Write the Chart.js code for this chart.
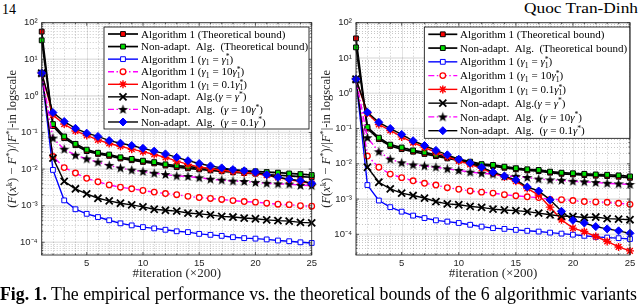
<!DOCTYPE html>
<html><head><meta charset="utf-8">
<script src="https://cdn.jsdelivr.net/npm/chart.js@4.4.1/dist/chart.umd.min.js"></script>
<style>
html,body{margin:0;padding:0;background:#fff;width:640px;height:305px;overflow:hidden;}
body{position:relative;}
#c1{position:absolute;left:0;top:0;}
#c2{position:absolute;left:314px;top:0;}
.txt{position:absolute;white-space:nowrap;font-family:'Liberation Serif',serif;color:#000;line-height:1;transform-origin:0 0;}
</style></head><body>
<div id="pg" class="txt" style="left:2px;top:3px;font-size:14px;">14</div>
<div id="au" class="txt" style="left:524px;top:2px;font-size:14px;">Quoc Tran-Dinh</div>
<canvas id="c1" width="320" height="285"></canvas>
<canvas id="c2" width="326" height="285"></canvas>
<div id="cap" class="txt" style="left:0;top:285px;font-size:18px;"><b>Fig. 1.</b> The empirical performance vs. the theoretical bounds of the 6 algorithmic variants</div>
<script>
// ---------------- data ----------------
const iterations = [1,2,3,4,5,6,7,8,9,10,11,12,13,14,15,16,17,18,19,20,21,22,23,24,25];
const xTickValues = [5,10,15,20,25];
const yTickValues = [1e-4,1e-3,1e-2,1e-1,1,10,100];

const seriesLabels = [
  'Algorithm 1 (Theoretical bound)',
  'Non-adapt. Alg. (Theoretical bound)',
  'Algorithm 1 (γ1 = γ1*)',
  'Algorithm 1 (γ1 = 10γ1*)',
  'Algorithm 1 (γ1 = 0.1γ1*)',
  'Non-adapt. Alg.(γ = γ*)',
  'Non-adapt. Alg. (γ = 10γ*)',
  'Non-adapt. Alg. (γ = 0.1γ*)'
];

// left panel
const L_alg1Bound     = [57,0.15,0.07,0.045,0.031,0.026,0.023,0.0195,0.0175,0.0157,0.0143,0.0125,0.0113,0.0105,0.0098,0.0092,0.0087,0.0082,0.0078,0.0075,0.0071,0.0068,0.0065,0.0062,0.006];
const L_nonAdaptBound = [33,0.17,0.078,0.049,0.034,0.028,0.025,0.021,0.019,0.017,0.0155,0.0135,0.0125,0.0117,0.011,0.0104,0.0099,0.0094,0.009,0.0087,0.0083,0.008,0.0076,0.0073,0.0069];
const L_alg1Gamma     = [4.2,0.0095,0.0014,0.0008,0.0006,0.00049,0.0004,0.00033,0.00029,0.00026,0.00024,0.00022,0.0002,0.00019,0.00017,0.00016,0.00015,0.000138,0.00013,0.000126,0.00012,0.000112,0.000107,0.0001,0.000096];
const L_alg1Gamma10   = [4.2,0.022,0.011,0.0078,0.0056,0.0045,0.0037,0.0032,0.0029,0.0026,0.00235,0.00215,0.002,0.0018,0.00167,0.00158,0.00148,0.00138,0.0013,0.00125,0.00117,0.0011,0.00107,0.001,0.00097];
const L_alg1Gamma01   = [4.2,0.3,0.17,0.11,0.083,0.063,0.05,0.042,0.035,0.03,0.025,0.021,0.0165,0.0135,0.0115,0.0102,0.0093,0.0086,0.008,0.0077,0.0068,0.0059,0.0051,0.0046,0.004];
const L_nonAdaptGamma = [4.2,0.02,0.0046,0.0029,0.0021,0.0016,0.00135,0.00117,0.00105,0.00093,0.0008,0.00075,0.00071,0.00063,0.0006,0.00056,0.00051,0.00049,0.00046,0.00044,0.00041,0.00039,0.00038,0.00035,0.00034];
const L_nonAdaptGamma10 = [4.2,0.07,0.035,0.024,0.019,0.0155,0.0126,0.0107,0.0094,0.0086,0.0077,0.0071,0.0065,0.0063,0.0058,0.0053,0.005,0.0047,0.0046,0.0043,0.0041,0.00395,0.0039,0.0036,0.00355];
const L_nonAdaptGamma01 = [4.2,0.35,0.2,0.13,0.096,0.078,0.06,0.051,0.044,0.037,0.031,0.026,0.021,0.017,0.0142,0.0122,0.0108,0.0097,0.009,0.0083,0.007,0.006,0.0053,0.0048,0.0041];

// right panel
const R_alg1Bound     = [36,0.1,0.05,0.032,0.026,0.022,0.019,0.0165,0.0142,0.0125,0.0106,0.0091,0.0086,0.0077,0.007,0.0065,0.0062,0.0056,0.0052,0.005,0.0048,0.0046,0.0045,0.0043,0.004];
const R_nonAdaptBound = [20,0.11,0.055,0.035,0.029,0.024,0.021,0.018,0.0155,0.0136,0.0115,0.0098,0.0093,0.0083,0.0075,0.007,0.0067,0.006,0.0056,0.0054,0.0052,0.005,0.0049,0.0047,0.0044];
const R_alg1Gamma     = [2.5,0.0025,0.00091,0.00059,0.00044,0.00034,0.00029,0.00025,0.00023,0.00021,0.000187,0.000166,0.00015,0.000143,0.000134,0.000126,0.00012,0.000112,0.000105,0.000098,0.000091,0.000085,0.000081,0.000078,0.000074];
const R_alg1Gamma10   = [2.5,0.0166,0.008,0.0051,0.00405,0.0033,0.0028,0.0025,0.0021,0.0019,0.0017,0.00157,0.00148,0.00133,0.00124,0.00116,0.0011,0.00098,0.00096,0.00091,0.00085,0.00083,0.00081,0.00076,0.00071];
const R_alg1Gamma01   = [2.5,0.27,0.13,0.088,0.058,0.04,0.029,0.021,0.016,0.012,0.0096,0.0074,0.0054,0.0042,0.0032,0.002,0.0013,0.00059,0.00026,0.00015,0.00012,0.000087,0.000063,0.000044,0.000034];
const R_nonAdaptGamma = [2.5,0.008,0.003,0.00195,0.00148,0.00126,0.00107,0.00085,0.00073,0.00069,0.00062,0.00058,0.00052,0.00049,0.00047,0.00044,0.0004,0.00036,0.00033,0.00032,0.0003,0.00031,0.00028,0.00027,0.00026];
const R_nonAdaptGamma10 = [2.5,0.055,0.022,0.0135,0.0107,0.0093,0.0087,0.008,0.0072,0.0065,0.0058,0.0054,0.0051,0.0045,0.0044,0.0041,0.0037,0.0035,0.0034,0.0032,0.0031,0.00295,0.0028,0.0027,0.0026];
const R_nonAdaptGamma01 = [2.5,0.29,0.15,0.1,0.068,0.045,0.033,0.024,0.018,0.0135,0.0105,0.008,0.0058,0.0045,0.0035,0.0022,0.0017,0.00095,0.00045,0.00025,0.00021,0.000166,0.000143,0.000126,0.000107];

const leftSeries  = [L_alg1Bound,L_nonAdaptBound,L_alg1Gamma,L_alg1Gamma10,L_alg1Gamma01,L_nonAdaptGamma,L_nonAdaptGamma10,L_nonAdaptGamma01];
const rightSeries = [R_alg1Bound,R_nonAdaptBound,R_alg1Gamma,R_alg1Gamma10,R_alg1Gamma01,R_nonAdaptGamma,R_nonAdaptGamma10,R_nonAdaptGamma01];

// ---------------- styles ----------------
function makePentagram(){
  const c=document.createElement('canvas'); c.width=11; c.height=11;
  const g=c.getContext('2d'); g.beginPath();
  for(let i=0;i<10;i++){const r=i%2?2.1:5.3; const a=-Math.PI/2+i*Math.PI/5; g.lineTo(5.5+r*Math.cos(a),5.8+r*Math.sin(a));}
  g.closePath(); g.fillStyle='#000'; g.fill(); return c;
}
const pentagram = makePentagram();
const DASHDOT=[6,2.5,1.5,2.5];
const STY = [
  {color:'#000',dash:[],lw:1.7,ps:'rect',r:3.4,bg:'#ff0000',bc:'#000',bw:1},
  {color:'#000',dash:[],lw:1.7,ps:'rect',r:3.4,bg:'#00e000',bc:'#000',bw:1},
  {color:'#0000ff',dash:[],lw:1.4,ps:'rect',r:3.4,bg:'#fff',bc:'#0000ff',bw:1},
  {color:'#ff00ff',dash:DASHDOT,lw:1.4,ps:'circle',r:2.8,bg:'#fff',bc:'#ff0000',bw:1.3},
  {color:'#ff0000',dash:[],lw:1.4,ps:'star',r:4,bg:'#ff0000',bc:'#ff0000',bw:1.4},
  {color:'#000',dash:[],lw:1.4,ps:'crossRot',r:5,bg:'#000',bc:'#000',bw:1.8},
  {color:'#ff00ff',dash:DASHDOT,lw:1.4,ps:pentagram,r:5,bg:'#000',bc:'#000',bw:1},
  {color:'#000',dash:[],lw:1.4,ps:'rectRot',r:4,bg:'#0000ff',bc:'#0000ff',bw:1}
];
// rich labels: [text, kind] kind: n normal, i italic, b subscript, p superscript, s stacked [sub,sup]
const G='γ';
const richLabels = [
  [['Algorithm 1 (Theoretical bound)','n']],
  [['Non-adapt.  Alg.  (Theoretical bound)','n']],
  [['Algorithm 1 (','n'],[G,'i'],['1','b'],[' = ','n'],[G,'i'],[['1','*'],'s'],[')','n']],
  [['Algorithm 1 (','n'],[G,'i'],['1','b'],[' = 10','n'],[G,'i'],[['1','*'],'s'],[')','n']],
  [['Algorithm 1 (','n'],[G,'i'],['1','b'],[' = 0.1','n'],[G,'i'],[['1','*'],'s'],[')','n']],
  [['Non-adapt.  Alg.(','n'],[G,'i'],[' = ','n'],[G,'i'],['*','p'],[')','n']],
  [['Non-adapt.  Alg.  (','n'],[G,'i'],[' = 10','n'],[G,'i'],['*','p'],[')','n']],
  [['Non-adapt.  Alg.  (','n'],[G,'i'],[' = 0.1','n'],[G,'i'],['*','p'],[')','n']]
];
const SERIF="'Liberation Serif', serif";
function fontFor(k,size){const s=(k==='b'||k==='p'||k==='s')?size*0.7:size;return (k==='i'?'italic ':'')+s+'px '+SERIF;}
function segWidth(ctx,t,k,size){ctx.font=fontFor(k,size);if(k==='s')return Math.max(ctx.measureText(t[0]).width,ctx.measureText(t[1]).width);return ctx.measureText(t).width;}
function richWidth(ctx,segs,size){let w=0;for(const [t,k] of segs)w+=segWidth(ctx,t,k,size);return w;}
function drawRich(ctx,segs,x,y,size){
  ctx.textBaseline='alphabetic';ctx.textAlign='left';
  for(const [t,k] of segs){
    const w=segWidth(ctx,t,k,size);
    if(k==='s'){ctx.fillText(t[0],x,y+size*0.22);ctx.fillText(t[1],x,y-size*0.3);}
    else{const dy=k==='b'?size*0.22:(k==='p'?-size*0.3:0);ctx.fillText(t,x,y+dy);}
    x+=w;
  }
}
function drawMarker(ctx,s,x,y){
  ctx.save();ctx.setLineDash([]);ctx.lineWidth=s.bw;ctx.strokeStyle=s.bc;ctx.fillStyle=s.bg;
  const r=s.r;ctx.beginPath();
  if(typeof s.ps!=='string'){ctx.drawImage(s.ps,x-s.ps.width/2,y-s.ps.height/2);ctx.restore();return;}
  switch(s.ps){
    case 'rect':{const h=r*Math.SQRT1_2;ctx.rect(x-h,y-h,2*h,2*h);ctx.fill();ctx.stroke();break;}
    case 'circle':ctx.arc(x,y,r,0,Math.PI*2);ctx.fill();ctx.stroke();break;
    case 'rectRot':ctx.moveTo(x-r,y);ctx.lineTo(x,y-r);ctx.lineTo(x+r,y);ctx.lineTo(x,y+r);ctx.closePath();ctx.fill();ctx.stroke();break;
    case 'crossRot':{const o=r*Math.SQRT1_2;ctx.moveTo(x-o,y-o);ctx.lineTo(x+o,y+o);ctx.moveTo(x-o,y+o);ctx.lineTo(x+o,y-o);ctx.stroke();break;}
    case 'star':{const o=r*Math.SQRT1_2;ctx.moveTo(x-r,y);ctx.lineTo(x+r,y);ctx.moveTo(x,y-r);ctx.lineTo(x,y+r);ctx.moveTo(x-o,y-o);ctx.lineTo(x+o,y+o);ctx.moveTo(x-o,y+o);ctx.lineTo(x+o,y-o);ctx.stroke();break;}
  }
  ctx.restore();
}
const SUP={'-':'⁻','0':'⁰','1':'¹','2':'²','3':'³','4':'⁴','5':'⁵','6':'⁶'};
function supLabel(v){const e=Math.round(Math.log10(v));return '10'+String(e).split('').map(c=>SUP[c]).join('');}

const TICKFONT={family:"'Liberation Sans', Arial, sans-serif",size:9.5};
const TXT='#262626';

const axesPlugin={
  id:'matlabAxes',
  beforeDatasetsDraw(chart,args,o){
    const {ctx,chartArea:a,scales:{x,y}}=chart;
    const line=(x0,y0,x1,y1)=>{ctx.beginPath();ctx.moveTo(x0,y0);ctx.lineTo(x1,y1);ctx.stroke();};
    ctx.save();
    ctx.fillStyle='#fff';ctx.fillRect(a.left,a.top,a.width,a.height);
    ctx.beginPath();ctx.rect(a.left,a.top,a.width,a.height);ctx.clip();
    ctx.lineWidth=1;ctx.strokeStyle='rgba(0,0,0,0.22)';ctx.setLineDash([1,2]);
    for(let e=-6;e<=2;e++)for(let k=2;k<=9;k++){const py=Math.round(y.getPixelForValue(k*Math.pow(10,e)))+0.5;if(py<a.top||py>a.bottom)continue;line(a.left,py,a.right,py);}
    for(let v=Math.ceil(x.min);v<=x.max;v++){if(v%5===0)continue;const px=Math.round(x.getPixelForValue(v))+0.5;line(px,a.top,px,a.bottom);}
    ctx.setLineDash([]);ctx.strokeStyle='rgba(0,0,0,0.11)';ctx.lineWidth=1.6;
    for(let e=-6;e<=2;e++){const py=y.getPixelForValue(Math.pow(10,e));if(py<a.top-1||py>a.bottom+1)continue;line(a.left,py,a.right,py);}
    ctx.lineWidth=1;
    for(const v of xTickValues){const px=Math.round(x.getPixelForValue(v))+0.5;line(px,a.top,px,a.bottom);}
    ctx.restore();
  },
  afterDraw(chart,args,o){
    const {ctx,chartArea:a,scales:{x,y}}=chart;
    const line=(x0,y0,x1,y1)=>{ctx.beginPath();ctx.moveTo(x0,y0);ctx.lineTo(x1,y1);ctx.stroke();};
    ctx.save();
    ctx.strokeStyle=TXT;ctx.lineWidth=0.7;
    for(let e=-6;e<=2;e++)for(let k=1;k<=9;k++){const py=y.getPixelForValue(k*Math.pow(10,e));if(py<a.top-0.5||py>a.bottom+0.5)continue;const L=k===1?3:1.6;line(a.left,py,a.left+L,py);line(a.right,py,a.right-L,py);}
    for(let v=Math.ceil(x.min);v<=x.max;v++){const px=x.getPixelForValue(v);const L=v%5===0?3:1.6;line(px,a.bottom,px,a.bottom-L);line(px,a.top,px,a.top+L);}
    ctx.lineWidth=0.9;ctx.strokeRect(a.left,a.top,a.width,a.height);
    const ys=12.5;
    const tsegs=[['(','n'],['F','i'],['(','n'],['x','i'],['k','p'],[') − ','n'],['F','i'],['*','p'],[')/|','n'],['F','i'],['*','p'],['|-in logscale','n']];
    ctx.fillStyle=TXT;
    const tw=richWidth(ctx,tsegs,ys);
    ctx.translate(o.yTitleX,(a.top+a.bottom)/2);ctx.rotate(-Math.PI/2);
    drawRich(ctx,tsegs,-tw/2,ys*0.33,ys);
    ctx.restore();
    const L=o.legend;ctx.save();
    ctx.fillStyle='#fff';ctx.fillRect(L.x,L.y,L.w,L.h);
    ctx.strokeStyle='#000';ctx.lineWidth=0.8;ctx.strokeRect(L.x,L.y,L.w,L.h);
    for(let i=0;i<STY.length;i++){
      const s=STY[i];const ry=L.row0+i*L.step;
      ctx.save();ctx.strokeStyle=s.color;ctx.lineWidth=s.lw;ctx.setLineDash(s.dash);line(L.lx0,ry,L.lx1,ry);ctx.restore();
      drawMarker(ctx,s,(L.lx0+L.lx1)/2,ry);
      ctx.fillStyle='#000';drawRich(ctx,richLabels[i],L.tx,ry+3.6,L.fs);
    }
    ctx.restore();
  }
};

function makeChart(id,series,yMin,yWidth,padRight,yTitleX,legend){
  const datasets=series.map((arr,i)=>{const s=STY[i];return{
    label:seriesLabels[i],
    data:iterations.map((it,j)=>({x:it,y:arr[j]})),
    borderColor:s.color,borderWidth:s.lw,borderDash:s.dash,
    pointStyle:s.ps,pointRadius:s.r,pointBackgroundColor:s.bg,pointBorderColor:s.bc,pointBorderWidth:s.bw,
    tension:0,fill:false,clip:false,order:STY.length-1-i
  };});
  return new Chart(document.getElementById(id),{
    type:'line',data:{datasets},
    options:{
      responsive:false,animation:false,events:[],
      layout:{padding:{left:0,right:padRight,top:22.7,bottom:0}},
      plugins:{legend:{display:false},tooltip:{enabled:false},matlabAxes:{yTitleX,legend}},
      scales:{
        x:{type:'linear',min:1,max:25,grid:{display:false,drawTicks:false},border:{display:false},
          afterBuildTicks:s=>{s.ticks=xTickValues.map(v=>({value:v}));},
          ticks:{font:TICKFONT,color:TXT,padding:3,maxRotation:0,autoSkip:false},
          title:{display:true,text:'#iteration (×200)',font:{family:SERIF,size:13},color:TXT,padding:{top:0,bottom:4}},
          afterFit:s=>{s.height=30;s.paddingLeft=0;s.paddingRight=0;}},
        y:{type:'logarithmic',min:yMin,max:100,grid:{display:false,drawTicks:false},border:{display:false},
          afterBuildTicks:s=>{s.ticks=yTickValues.map(v=>({value:v}));},
          ticks:{font:TICKFONT,color:TXT,padding:4,autoSkip:false,callback:v=>supLabel(v)},
          afterFit:s=>{s.width=yWidth;s.paddingTop=0;s.paddingBottom=0;}}
      }
    },
    plugins:[axesPlugin]
  });
}

makeChart('c1',leftSeries,4.5e-5,41.7,8.3,11.5,{x:104,y:27,w:205,h:102,row0:34,step:12.57,lx0:108,lx1:138,tx:141,fs:11});
makeChart('c2',rightSeries,2.6e-5,42,10,11.5,{x:110.3,y:27,w:205.5,h:111.3,row0:34.3,step:13.77,lx0:114.3,lx1:143.3,tx:146,fs:11});

function fit(id,w){const el=document.getElementById(id);const cw=el.getBoundingClientRect().width;el.style.transform='scaleX('+(w/cw)+')';}
fit('au',114);fit('cap',637);
</script>
</body></html>
